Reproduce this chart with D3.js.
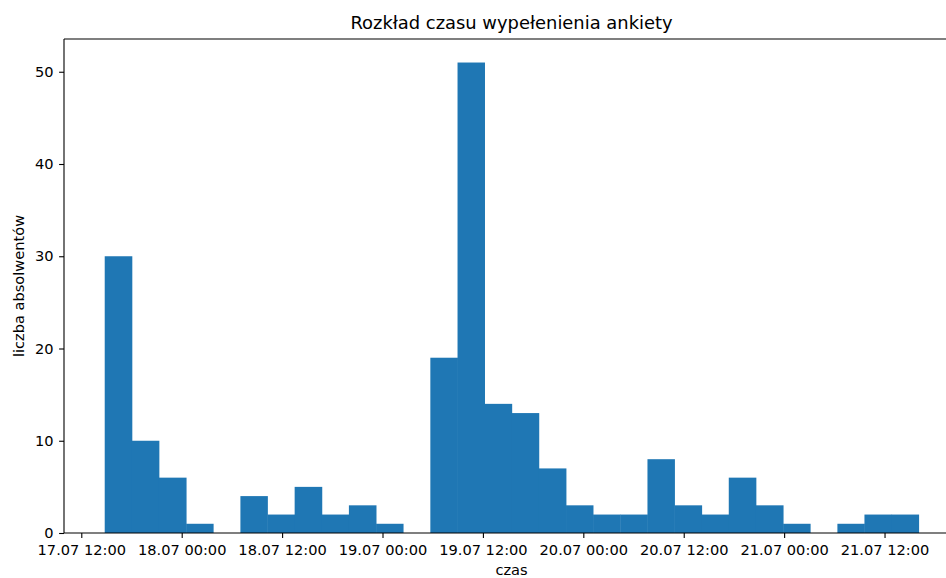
<!DOCTYPE html>
<html>
<head>
<meta charset="utf-8">
<script src="https://cdn.jsdelivr.net/npm/d3@7"></script>
<style>
  body { margin: 0; background: #fff; }
  svg { display: block; font-family: "DejaVu Sans", sans-serif; }
</style>
</head>
<body>
<svg id="chart" width="946" height="578"></svg>
<script>
// ---- data ----
const title = "Rozkład czasu wypełenienia ankiety";
const xLabel = "czas";
const yLabel = "liczba absolwentów";
const binStart = "2023-07-17T14:48:00";
const binHours = 3.243;
const counts = [30, 10, 6, 1, 0, 4, 2, 5, 2, 3, 1, 0, 19, 51, 14, 13, 7, 3, 2, 2, 8, 3, 2, 6, 3, 1, 0, 1, 2, 2];
const xDomain = ["2023-07-17T09:56:00", "2023-07-21T20:54:00"];
const yTicks = [0, 10, 20, 30, 40, 50];
const yMax = 53.55;

(function () {
// ---- layout ----
const svg = d3.select("#chart");
const mLeft = 64, mRight = 959, mTop = 39, mBottom = 533;
const parse = d3.timeParse("%Y-%m-%dT%H:%M:%S");
const t0 = parse(binStart);
const bins = counts.map((c, i) => ({
  x0: d3.timeMinute.offset(t0, Math.round(i * binHours * 60)),
  x1: d3.timeMinute.offset(t0, Math.round((i + 1) * binHours * 60)),
  c
}));

const x = d3.scaleTime().domain(xDomain.map(parse)).range([mLeft, mRight]);
const y = d3.scaleLinear().domain([0, yMax]).range([mBottom, mTop]);

svg.append("g").selectAll("rect").data(bins.filter(d => d.c > 0)).join("rect")
  .attr("x", d => x(d.x0))
  .attr("width", d => x(d.x1) - x(d.x0) + 0.4)
  .attr("y", d => y(d.c))
  .attr("height", d => y(0) - y(d.c))
  .attr("fill", "#1f77b4");

const fs = 14.6;
const xAxis = d3.axisBottom(x)
  .ticks(d3.timeHour.every(12))
  .tickFormat(d3.timeFormat("%d.%m %H:%M"))
  .tickSizeOuter(0).tickSize(4.9).tickPadding(7);
const gx = svg.append("g").attr("transform", `translate(0,${mBottom})`).call(xAxis);
gx.select(".domain").remove();
gx.selectAll("text").attr("font-size", fs).attr("fill", "#000").attr("font-family", "DejaVu Sans");
gx.selectAll("line").attr("stroke", "#000").attr("stroke-width", 1.1);

const yAxis = d3.axisLeft(y).tickValues(yTicks).tickSizeOuter(0).tickSize(4.9).tickPadding(5.5);
const gy = svg.append("g").attr("transform", `translate(${mLeft},0)`).call(yAxis);
gy.select(".domain").remove();
gy.selectAll("text").attr("font-size", fs).attr("fill", "#000").attr("font-family", "DejaVu Sans");
gy.selectAll("line").attr("stroke", "#000").attr("stroke-width", 1.1);

// spines
const sp = svg.append("g").attr("stroke", "#000").attr("stroke-width", 1.1).attr("fill", "none");
sp.append("line").attr("x1", mLeft).attr("x2", mLeft).attr("y1", mTop).attr("y2", mBottom);
sp.append("line").attr("x1", mLeft).attr("x2", mRight).attr("y1", mBottom).attr("y2", mBottom);
sp.append("line").attr("x1", mLeft).attr("x2", mRight).attr("y1", mTop).attr("y2", mTop);
sp.append("line").attr("x1", mRight).attr("x2", mRight).attr("y1", mTop).attr("y2", mBottom);

svg.append("text").attr("x", (mLeft + mRight) / 2).attr("y", 29)
  .attr("text-anchor", "middle").attr("font-size", 17.9).text(title);
svg.append("text").attr("x", (mLeft + mRight) / 2).attr("y", 575)
  .attr("text-anchor", "middle").attr("font-size", fs).text(xLabel);
svg.append("text").attr("transform", `translate(24,${(mTop + mBottom) / 2}) rotate(-90)`)
  .attr("text-anchor", "middle").attr("font-size", fs).text(yLabel);
})();
</script>
</body>
</html>
